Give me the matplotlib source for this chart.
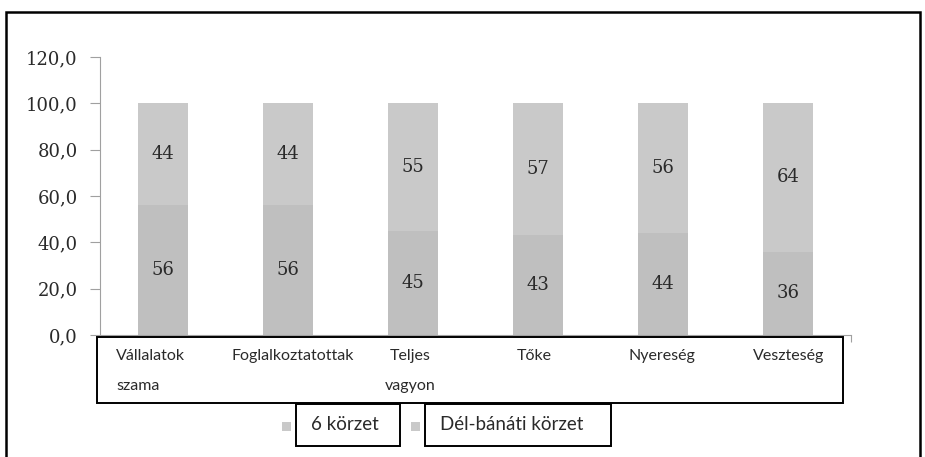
import numpy as np
import matplotlib.pyplot as plt
from matplotlib.patches import Rectangle

categories = ["Vállalatok\nszama", "Foglalkoztatottak", "Teljes\nvagyon", "Tőke", "Nyereség", "Veszteség"]
korzet6 = [56, 56, 45, 43, 44, 36]
delbanati = [44, 44, 55, 57, 56, 64]
yticks = [0, 20, 40, 60, 80, 100, 120]
legend_names = ["6 körzet", "Dél-bánáti körzet"]

W, H = 925, 457
fig = plt.figure(figsize=(W / 100, H / 100), dpi=100)

def fx(x):
    return x / W

def fy(y):
    return 1 - y / H

# outer frame (bottom edge runs off the picture)
fig.patches.append(Rectangle((fx(6), fy(470)), fx(914), fy(12) - fy(470),
                             transform=fig.transFigure, fill=False, lw=1.8, ec='black'))

ax = fig.add_axes([fx(100), fy(335), fx(751), fy(57) - fy(335)])
x = np.arange(len(categories))
c_bot = '#bfbfbf'
c_top = '#c9c9c9'
ax.bar(x, korzet6, width=0.4, color=c_bot)
ax.bar(x, delbanati, width=0.4, bottom=korzet6, color=c_top)

num_font = dict(family='DejaVu Serif', fontsize=13, color='#2a2a2a')
for i in range(len(categories)):
    ax.text(x[i], korzet6[i] / 2, str(korzet6[i]), ha='center', va='center', **num_font)
    ax.text(x[i], korzet6[i] + delbanati[i] / 2, str(delbanati[i]), ha='center', va='center', **num_font)

ax.set_xlim(-0.5, len(categories) - 0.5)
ax.set_ylim(0, 120)
ax.set_yticks(yticks)
ax.set_yticklabels([f"{v:.1f}".replace('.', ',') for v in yticks], **num_font)
ax.set_xticks(np.arange(len(categories) + 1) - 0.5)
ax.set_xticklabels([])
ax.tick_params(axis='y', direction='out', length=7, color='#a0a0a0', pad=9)
ax.tick_params(axis='x', direction='out', length=5, color='#a0a0a0')
for s in ['top', 'right']:
    ax.spines[s].set_visible(False)
for s in ['left', 'bottom']:
    ax.spines[s].set_color('#a0a0a0')

# category label box
fig.patches.append(Rectangle((fx(97), fy(403)), fx(746), fy(337) - fy(403),
                             transform=fig.transFigure, fill=True, fc='white', lw=1.4, ec='black', zorder=5))
shift = [-12, 5, -3, -4, -1, 0]
align = ['left', 'center', 'center', 'center', 'center', 'center']
for i, c in enumerate(categories):
    xp = ax.transData.transform((x[i], 0))[0] + shift[i]
    fig.text(fx(xp), fy(349), c, ha='center', va='top', family='Lato', fontsize=11.5,
             color='#2a2a2a', multialignment=align[i], linespacing=2.45, zorder=6)

# legend
boxes = [(296, 104), (425, 186)]
for (bx, bw), name in zip(boxes, legend_names):
    fig.patches.append(Rectangle((fx(bx), fy(446)), fx(bw), fy(404) - fy(446),
                                 transform=fig.transFigure, fill=True, fc='white', lw=1.4, ec='black', zorder=5))
    fig.patches.append(Rectangle((fx(bx - 14), fy(431)), fx(9), fy(422) - fy(431),
                                 transform=fig.transFigure, fc='#c9c9c9', ec='none', zorder=5))
    fig.text(fx(bx + 15), fy(425), name, ha='left', va='center', family='Lato',
             fontsize=13.5, color='#2a2a2a', zorder=6)

fig.savefig('out.png', dpi=100)
